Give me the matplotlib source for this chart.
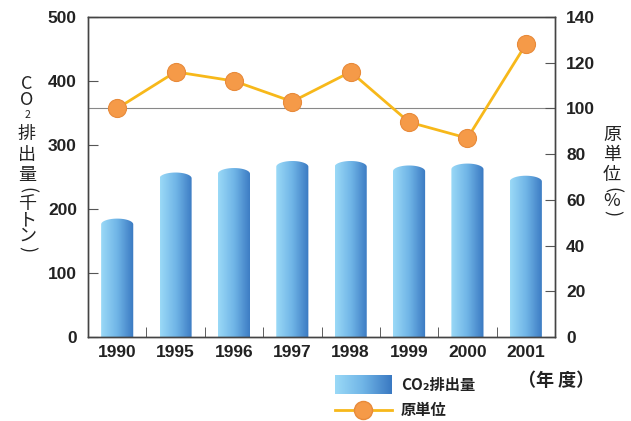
import numpy as np
import matplotlib
matplotlib.use('Agg')
import matplotlib.pyplot as plt
from matplotlib.path import Path
from matplotlib.patches import PathPatch
from matplotlib.colors import LinearSegmentedColormap
from matplotlib.lines import Line2D

# data
years = ['1990', '1995', '1996', '1997', '1998', '1999', '2000', '2001']
co2 = [185, 257, 264, 275, 275, 268, 271, 252]          # thousand tons
unit_ratio = [100, 116, 112, 103, 116, 94, 87, 128]     # percent

num_font = ['Liberation Sans', 'DejaVu Sans']
jp_font = ['Noto Sans CJK JP', 'DejaVu Sans']
plt.rcParams['font.family'] = num_font
plt.rcParams['font.weight'] = 'bold'

W, H = 631, 421
fig = plt.figure(figsize=(W / 100, H / 100), dpi=100)
ax = fig.add_axes([88 / W, 1 - 337 / H, (555 - 88) / W, (337 - 17) / H])
ax2 = ax.twinx()

grad = LinearSegmentedColormap.from_list('bar', ['#9ad9f7', '#6fb4e6', '#3a79c2'])
gimg = np.linspace(0, 1, 64).reshape(1, -1)

x = np.arange(len(years))
bw = 0.55
cap = 9
for xi, v in zip(x, co2):
    l, r = xi - bw / 2, xi + bw / 2
    t = np.linspace(np.pi, 0, 30)
    arc_x = xi + bw / 2 * np.cos(t)
    arc_y = v - cap + cap * np.sin(t)
    verts = [(l, 0)] + list(zip(arc_x, arc_y)) + [(r, 0), (l, 0)]
    codes = [Path.MOVETO] + [Path.LINETO] * (len(verts) - 2) + [Path.CLOSEPOLY]
    patch = PathPatch(Path(verts, codes), facecolor='none', edgecolor='none')
    ax.add_patch(patch)
    im = ax.imshow(gimg, cmap=grad, extent=[l, r, 0, v], aspect='auto', zorder=2)
    im.set_clip_path(patch)

ax.set_xlim(-0.5, len(years) - 0.5)
ax.set_ylim(0, 500)
ax.set_yticks(range(0, 501, 100))
ax.set_xticks(x)
ax.set_xticklabels(years)
ax.set_xticks(np.arange(0.5, len(years) - 1, 1), minor=True)
ax.tick_params(axis='x', which='major', length=0, pad=6, labelsize=12.5, labelcolor='#222222')
ax.tick_params(axis='x', which='minor', direction='in', length=7, color='#444444')
ax.tick_params(axis='y', direction='in', length=7, color='#555555', labelsize=12.5, pad=8,
               labelcolor='#222222')

ax2.set_ylim(0, 140)
ax2.set_yticks(range(0, 141, 20))
ax2.tick_params(axis='y', direction='in', length=7, color='#555555', labelsize=12.5, pad=8,
                labelcolor='#222222')
ax2.axhline(100, color='#888888', lw=0.8, zorder=1)
ax2.plot(x, unit_ratio, color='#f7b81a', lw=2, marker='o', markersize=13,
         markerfacecolor='#f59a48', markeredgecolor='#e88a3a', markeredgewidth=0.8, zorder=5)

for a in (ax, ax2):
    for s in a.spines.values():
        s.set_color('#444444')
        s.set_linewidth(1.0)

# vertical axis titles (upright stacked characters; parentheses turned)
left_chars = [('C', 84, 13, 0), ('O', 100, 13, 0), ('2', 115, 7.5, 0), ('排', 134, 13, 0),
              ('出', 155, 13, 0), ('量', 175, 13, 0), ('(', 190, 13, -90), ('千', 204, 13, 0),
              ('ト', 220, 13, 0), ('ン', 236, 13, 0), (')', 249, 13, -90)]
for ch, yp, fs, rot in left_chars:
    fig.text(27 / W, 1 - yp / H, ch, ha='center', va='center', fontsize=fs, rotation=rot,
             family=jp_font, fontweight='normal', color='#222222')

right_chars = [('原', 135, 13, 0), ('単', 155, 13, 0), ('位', 175, 13, 0), ('(', 190, 13, -90),
               ('%', 201, 13, 0), (')', 213, 13, -90)]
for ch, yp, fs, rot in right_chars:
    fig.text(612 / W, 1 - yp / H, ch, ha='center', va='center', fontsize=fs, rotation=rot,
             family=jp_font, fontweight='normal', color='#222222')

# legend
lax = fig.add_axes([335 / W, 1 - 394 / H, 57 / W, 19 / H])
lax.imshow(gimg, cmap=grad, aspect='auto')
lax.axis('off')
fig.text(401 / W, 1 - 385 / H, 'CO₂排出量', ha='left', va='center', fontsize=11,
         fontweight='bold', family=jp_font, color='#222222')
fig.add_artist(Line2D([335 / W, 392 / W], [1 - 410 / H] * 2, transform=fig.transFigure,
                      color='#f7b81a', lw=2))
fig.add_artist(Line2D([363 / W], [1 - 410 / H], transform=fig.transFigure, marker='o',
                      markersize=13, markerfacecolor='#f59a48', markeredgecolor='#e88a3a', lw=0))
fig.text(401 / W, 1 - 410 / H, '原単位', ha='left', va='center', fontsize=11,
         fontweight='bold', family=jp_font, color='#222222')
fig.text(556 / W, 1 - 381 / H, '（年 度）', ha='center', va='center', fontsize=13,
         fontweight='bold', family=jp_font, color='#222222')

fig.savefig('out.png', dpi=100)
